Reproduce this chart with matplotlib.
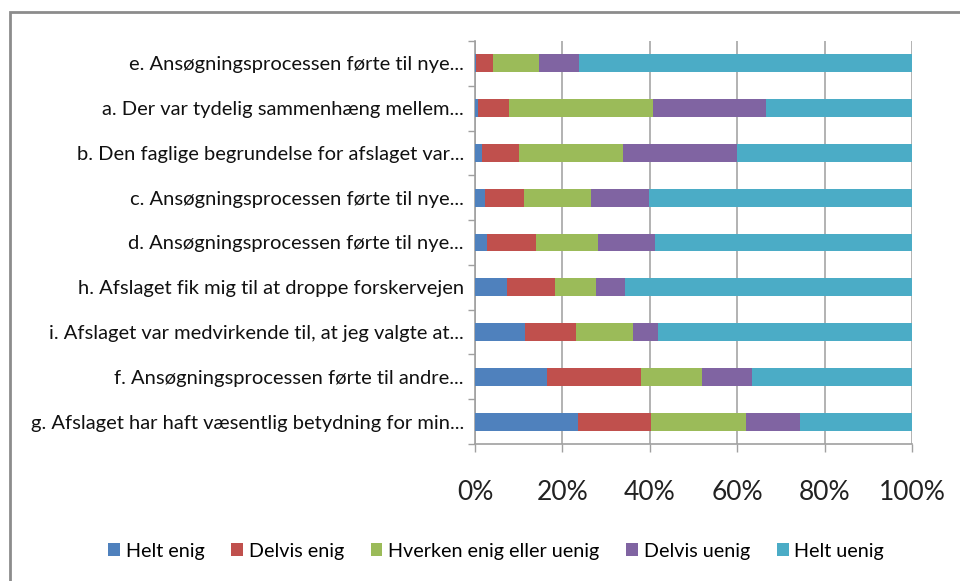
import numpy as np
import matplotlib.pyplot as plt
from matplotlib.patches import Rectangle

plt.rcParams['font.family'] = ['Lato', 'DejaVu Sans']

# data (percent), top row first
categories = [
    "e. Ansøgningsprocessen førte til nye...",
    "a. Der var tydelig sammenhæng mellem...",
    "b. Den faglige begrundelse for afslaget var...",
    "c. Ansøgningsprocessen førte til nye...",
    "d. Ansøgningsprocessen førte til nye...",
    "h. Afslaget fik mig til at droppe forskervejen",
    "i. Afslaget var medvirkende til, at jeg valgte at...",
    "f. Ansøgningsprocessen førte til andre...",
    "g. Afslaget har haft væsentlig betydning for min...",
]
helt_enig = [0.3, 0.6, 1.5, 2.4, 2.7, 7.4, 11.5, 16.5, 23.5]
delvis_enig = [3.9, 7.1, 8.5, 8.7, 11.2, 10.8, 11.7, 21.4, 16.7]
hverken = [10.5, 33.1, 23.8, 15.4, 14.3, 9.4, 13.0, 14.1, 21.8]
delvis_uenig = [9.1, 25.9, 26.1, 13.3, 12.9, 6.8, 5.6, 11.4, 12.4]
helt_uenig = [76.2, 33.3, 40.1, 60.2, 58.9, 65.6, 58.2, 36.6, 25.6]

series = ["Helt enig", "Delvis enig", "Hverken enig eller uenig", "Delvis uenig", "Helt uenig"]
colors = ["#4F81BD", "#C0504D", "#9BBB59", "#8064A2", "#4BACC6"]
values = [helt_enig, delvis_enig, hverken, delvis_uenig, helt_uenig]

fig = plt.figure(figsize=(9.6, 5.81), dpi=100)
ax = fig.add_axes([475/960, 1 - 444/581, 437/960, 403/581])

# outer frame like the excel chart area
fig.patches.append(Rectangle((10/960, -0.05), 1.0, 1 - 12/581 + 0.05, transform=fig.transFigure,
                             fill=False, edgecolor="#8c8c8c", linewidth=2))

y = np.arange(len(categories))[::-1]
tot = np.sum(np.array(values), axis=0)
left = np.zeros(len(categories))
for name, vals, c in zip(series, values, colors):
    pct = np.array(vals) / tot * 100
    ax.barh(y, pct, left=left, height=0.4, color=c, label=name, zorder=3)
    left += pct

ax.set_xlim(0, 100)
ax.set_ylim(-0.5, len(categories) - 0.5)
ax.set_xticks(np.arange(0, 101, 20))
ax.set_xticklabels([f"{v}%" for v in range(0, 101, 20)], fontsize=19, color="#222222")
ax.set_yticks(y)
ax.set_yticklabels(categories, fontsize=14.5, color="#111111")
ax.set_yticks(np.arange(-0.5, len(categories), 1), minor=True)
ax.tick_params(axis="y", which="major", length=0, pad=8)
ax.tick_params(axis="y", which="minor", length=5, color="#a0a0a0", width=1)
ax.tick_params(axis="x", length=6, color="#a0a0a0", width=1, pad=20)
ax.grid(axis="x", color="#a6a6a6", linewidth=1.2, zorder=0)
for s in ["top", "right"]:
    ax.spines[s].set_visible(False)
for s in ["left", "bottom"]:
    ax.spines[s].set_color("#a0a0a0")
    ax.spines[s].set_linewidth(1.2)

fig.legend(loc="center", bbox_to_anchor=(496/960, 1 - 551/581), ncol=5, frameon=False,
           fontsize=14.2, handlelength=0.6, handleheight=0.6, handletextpad=0.3, columnspacing=1.35)

fig.savefig("out.png", dpi=100)
